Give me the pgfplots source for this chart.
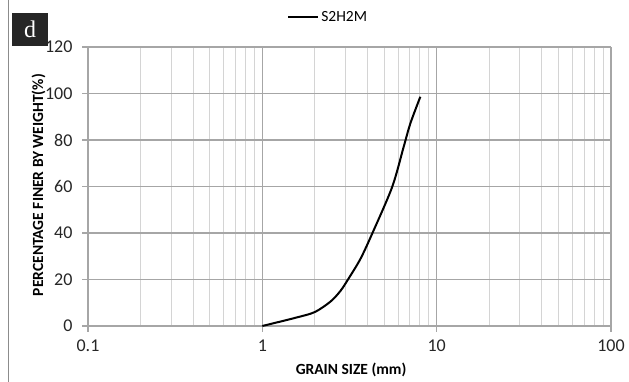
\documentclass[border=0pt]{standalone}
\usepackage{pgfplots}
\pgfplotsset{compat=1.18}
\usepackage{fontspec}
\setmainfont{Carlito}
\newfontfamily\seriffont{Liberation Serif}
\definecolor{majgrid}{HTML}{A6A6A6}
\definecolor{mingrid}{HTML}{D4D4D4}
\begin{document}
\begin{tikzpicture}
\path[use as bounding box] (0pt,0pt) rectangle (629pt,382pt);
\draw[black!45, line width=0.8pt] (8pt,0pt) -- (8pt,382pt);
\fill[black!85] (12pt,336pt) rectangle (48pt,369pt);
\node[white, font=\seriffont\fontsize{24}{24}\selectfont] at (30pt,353pt) {d};
\begin{axis}[
  at={(88pt,56pt)}, anchor=south west,
  scale only axis, width=523pt, height=279pt,
  xmode=log, xmin=0.1, xmax=100, ymin=0, ymax=120,
  xtick={0.1,1,10,100}, xticklabels={0.1,1,10,100},
  ytick={0,20,40,60,80,100,120},
  axis x line=bottom, axis y line=left,
  axis line style={-, majgrid, line width=1.2pt},
  grid=both,
  major grid style={majgrid, line width=1.1pt},
  minor grid style={mingrid, line width=0.9pt},
  tick align=outside,
  major tick length=6pt, minor tick length=0pt,
  tick style={majgrid, line width=1.1pt},
  /pgf/number format/assume math mode=true,
  tick label style={font=\fontsize{18}{20}\selectfont, text=black!85},
  xticklabel style={yshift=-4pt},
  yticklabel style={xshift=-6pt},
  xlabel={\textbf{GRAIN SIZE (mm)}},
  ylabel={\textbf{PERCENTAGE FINER BY WEIGHT(\%)}},
  every axis x label/.style={at={(axis description cs:0.503,-0.158)}, anchor=center, font=\fontsize{15.5}{17}\selectfont},
  every axis y label/.style={at={(axis description cs:-0.0947,0.505)}, anchor=center, rotate=90, font=\fontsize{15.5}{17}\selectfont},
  legend style={at={(axis description cs:0.375,1.108)}, anchor=west, draw=none, fill=none, font=\fontsize{15.5}{17}\selectfont},
  legend image code/.code={\draw[black, line width=2pt] (0pt,0pt) -- (30pt,0pt);},
  legend cell align=left,
  clip=false,
]
\addplot[black, line width=2pt, smooth, tension=0.5] coordinates {
  (1,0) (1.58,3.7) (2,6) (2.46,10.5) (2.8,15) (3.1,20) (3.65,28.8) (4.26,39.6) (5.55,59.7) (6.47,77.1) (7.07,87.2) (8.06,98.6)
};
\addlegendentry{S2H2M}
\end{axis}
\end{tikzpicture}
\end{document}
